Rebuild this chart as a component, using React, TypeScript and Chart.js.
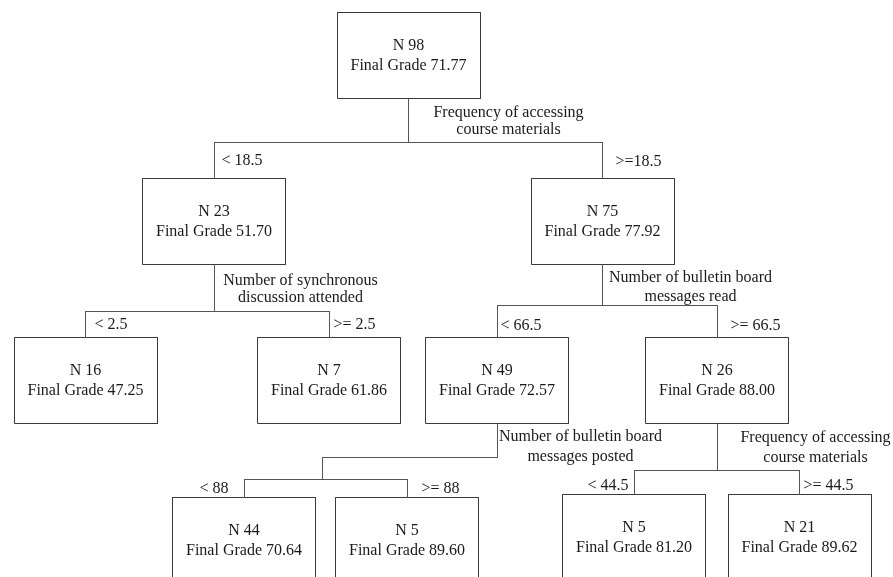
import React, { useEffect, useRef } from "react";
import { Chart, registerables } from "chart.js";

Chart.register(...registerables);

// ---- data ----
const nodeN = [98, 23, 75, 16, 7, 49, 26, 44, 5, 5, 21];
const nodeGrade = [71.77, 51.7, 77.92, 47.25, 61.86, 72.57, 88.0, 70.64, 89.6, 81.2, 89.62];
const nodeParent = [-1, 0, 0, 1, 1, 2, 2, 5, 5, 6, 6];
const branchLabels = ["", "< 18.5", ">=18.5", "< 2.5", ">= 2.5", "< 66.5", ">= 66.5", "< 88", ">= 88", "< 44.5", ">= 44.5"];
const splitLabels: (string[] | null)[] = [
  ["Frequency of accessing", "course materials"],
  ["Number of synchronous", "discussion attended"],
  ["Number of bulletin board", "messages read"],
  null,
  null,
  ["Number of bulletin board", "messages posted"],
  ["Frequency of accessing", "course materials"],
  null,
  null,
  null,
  null,
];

// ---- layout (diagram coordinates) ----
const nodeX = [408, 213.5, 602, 85, 328.5, 496.5, 716.5, 243.5, 406.5, 633.5, 799];
const nodeTop = [12, 178, 178, 337, 337, 337, 337, 497, 497, 494, 494];
const BOX_W = 143;
const BOX_H = 86;
const splitBarY = [142, 311, 305, null, null, 479, 470, null, null, null, null];
const stemJog: ({ y: number; x: number } | null)[] = [null, null, null, null, null, { y: 457, x: 322 }, null, null, null, null, null];
const branchLabelPos = [
  null,
  { x: 221, y: 160 },
  { x: 615, y: 161 },
  { x: 94, y: 324 },
  { x: 333, y: 324 },
  { x: 500, y: 325 },
  { x: 730, y: 325 },
  { x: 199, y: 488 },
  { x: 421, y: 488 },
  { x: 587, y: 485 },
  { x: 803, y: 485 },
];
const splitLabelPos = [
  { x: 508, y1: 112, y2: 129 },
  { x: 300, y1: 280, y2: 297 },
  { x: 690, y1: 277, y2: 296 },
  null,
  null,
  { x: 580, y1: 436, y2: 456 },
  { x: 815, y1: 437, y2: 457 },
  null,
  null,
  null,
  null,
];

const FONT = '16px "Liberation Serif", "Times New Roman", serif';
const LINE_COLOR = "#555555";
const BOX_COLOR = "#3a3a3a";
const TEXT_COLOR = "#1a1a1a";

function buildDatasets() {
  const ds: any[] = [];
  const lineDs = (pts: { x: number; y: number }[], color = LINE_COLOR) => ({
    type: "scatter",
    data: pts,
    showLine: true,
    borderColor: color,
    borderWidth: 1,
    pointRadius: 0,
    pointHoverRadius: 0,
    fill: false,
    tension: 0,
    borderJoinStyle: "miter",
    borderCapStyle: "square",
    clip: false,
  });
  // connectors
  nodeN.forEach((_, p) => {
    const kids = nodeParent.map((pp, i) => (pp === p ? i : -1)).filter((i) => i >= 0);
    if (!kids.length) return;
    const px = Math.round(nodeX[p]);
    const bottom = nodeTop[p] + BOX_H;
    const barY = splitBarY[p] as number;
    const jog = stemJog[p];
    if (jog) {
      ds.push(lineDs([
        { x: px, y: bottom },
        { x: px, y: jog.y },
        { x: jog.x, y: jog.y },
        { x: jog.x, y: barY },
      ]));
    } else {
      ds.push(lineDs([
        { x: px, y: bottom },
        { x: px, y: barY },
      ]));
    }
    const xs = kids.map((k) => Math.round(nodeX[k]));
    ds.push(lineDs([
      { x: Math.min(...xs), y: barY },
      { x: Math.max(...xs), y: barY },
    ]));
    kids.forEach((k) => {
      ds.push(lineDs([
        { x: Math.round(nodeX[k]), y: barY },
        { x: Math.round(nodeX[k]), y: nodeTop[k] },
      ]));
    });
  });
  // boxes
  nodeN.forEach((_, i) => {
    const L = Math.round(nodeX[i] - BOX_W / 2);
    const R = Math.round(nodeX[i] + BOX_W / 2);
    const t = nodeTop[i];
    const b = nodeTop[i] + BOX_H;
    ds.push(
      lineDs([
        { x: L, y: t },
        { x: R, y: t },
        { x: R, y: b },
        { x: L, y: b },
        { x: L, y: t },
      ], BOX_COLOR)
    );
  });
  return ds;
}

const textPlugin = {
  id: "treeText",
  afterDatasetsDraw(chart: any) {
    const { ctx, scales } = chart;
    const xs = scales.x;
    const ys = scales.y;
    ctx.save();
    ctx.font = FONT;
    ctx.fillStyle = TEXT_COLOR;
    ctx.textBaseline = "middle";
    // node text
    ctx.textAlign = "center";
    nodeN.forEach((n, i) => {
      const cx = xs.getPixelForValue(nodeX[i]);
      ctx.fillText("N " + n, cx, ys.getPixelForValue(nodeTop[i] + 33));
      ctx.fillText("Final Grade " + nodeGrade[i].toFixed(2), cx, ys.getPixelForValue(nodeTop[i] + 53));
    });
    // split labels
    splitLabels.forEach((lines, i) => {
      const pos = splitLabelPos[i];
      if (!lines || !pos) return;
      const cx = xs.getPixelForValue(pos.x);
      ctx.fillText(lines[0], cx, ys.getPixelForValue(pos.y1));
      ctx.fillText(lines[1], cx, ys.getPixelForValue(pos.y2));
    });
    // branch labels
    ctx.textAlign = "left";
    branchLabels.forEach((lab, i) => {
      const pos = branchLabelPos[i];
      if (!lab || !pos) return;
      ctx.fillText(lab, xs.getPixelForValue(pos.x), ys.getPixelForValue(pos.y));
    });
    ctx.restore();
  },
};

export default function App() {
  const ref = useRef<HTMLCanvasElement | null>(null);
  useEffect(() => {
    document.body.style.margin = "0";
    document.body.style.background = "#ffffff";
    const canvas = ref.current;
    if (!canvas) return;
    const chart = new Chart(canvas, {
      type: "scatter",
      data: { datasets: buildDatasets() },
      options: {
        animation: false,
        responsive: false,
        maintainAspectRatio: false,
        devicePixelRatio: 1,
        events: [],
        layout: { padding: 0 },
        plugins: { legend: { display: false }, tooltip: { enabled: false } },
        scales: {
          x: { type: "linear", display: false, min: -0.5, max: 892.5 },
          y: { type: "linear", display: false, min: -0.5, max: 576.5, reverse: true },
        },
      } as any,
      plugins: [textPlugin],
    });
    return () => chart.destroy();
  }, []);
  return (
    <div style={{ width: 893, height: 577, background: "#fff" }}>
      <canvas ref={ref} width={893} height={577} style={{ display: "block" }} />
    </div>
  );
}
